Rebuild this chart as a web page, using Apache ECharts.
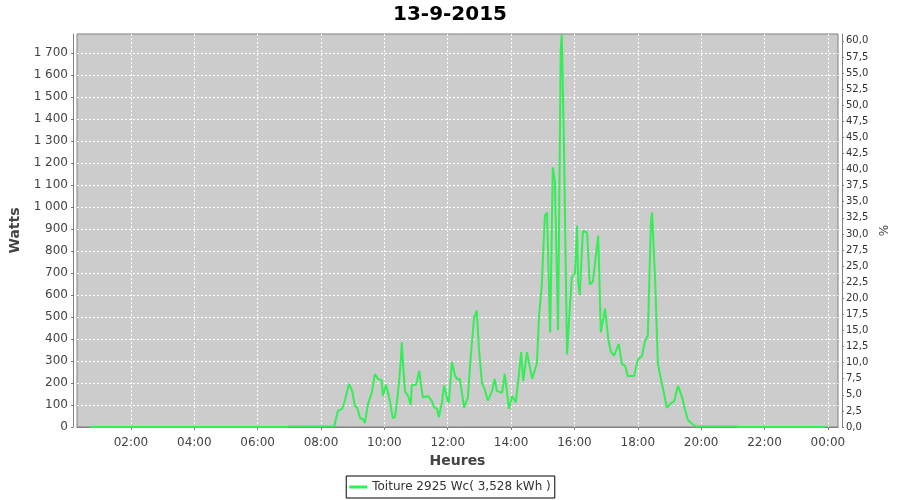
<!DOCTYPE html>
<html>
<head>
<meta charset="utf-8">
<script src="https://cdn.jsdelivr.net/npm/echarts@6/dist/echarts.min.js"></script>
<style>
html,body{margin:0;padding:0;background:#fff;}
#c{width:900px;height:500px;}
</style>
</head>
<body>
<div id="c"></div>
<script>
const chartTitle = "13-9-2015";
const seriesName = "Toiture 2925 Wc( 3,528 kWh )";
const peakPower = 2925;
const times = ["00:42","06:55","07:00","08:25","08:28","08:32","08:40","08:45","08:53","08:59","09:04","09:08","09:14","09:19","09:23","09:29","09:36","09:42","09:48","09:55","09:57","10:03","10:09","10:16","10:20","10:24","10:28","10:31","10:33","10:35","10:39","10:45","10:50","10:52","11:00","11:06","11:09","11:13","11:23","11:30","11:34","11:40","11:43","11:49","11:53","11:59","12:02","12:08","12:14","12:19","12:23","12:31","12:38","12:44","12:50","12:55","12:59","13:05","13:09","13:16","13:24","13:29","13:33","13:43","13:48","13:56","14:02","14:09","14:15","14:19","14:23","14:30","14:40","14:49","14:53","14:58","15:04","15:08","15:14","15:19","15:23","15:29","15:34","15:36","15:40","15:46","15:50","15:55","16:01","16:05","16:07","16:10","16:16","16:24","16:29","16:35","16:45","16:50","16:58","17:04","17:09","17:15","17:24","17:30","17:36","17:41","17:53","18:00","18:08","18:14","18:19","18:25","18:27","18:33","18:38","18:44","18:50","18:55","19:03","19:09","19:16","19:24","19:29","19:35","19:42","19:50","21:05","21:10","23:56"];
const watts = [0,0,2,3,4,73,82,118,196,164,96,90,41,36,18,105,155,240,219,212,141,192,135,41,45,118,210,300,385,300,162,141,100,190,192,255,196,135,140,118,90,82,44,109,189,128,109,296,232,215,219,88,132,333,497,529,360,196,178,120,164,219,164,155,242,82,141,112,242,340,210,340,220,290,506,640,960,975,430,1180,1117,440,1714,1784,1300,330,492,680,700,915,661,600,891,884,647,661,870,430,538,401,342,324,378,287,278,232,232,305,324,392,415,939,975,661,290,215,150,87,109,118,187,135,82,32,16,2,2,0,0];
const xTickHours = [2,4,6,8,10,12,14,16,18,20,22,24];

function toHours(s){const p=s.split(':');return (+p[0])+(+p[1])/60;}
const data = times.map((t,i)=>[toHours(t), watts[i]]);
const leftMax = 1786;
const rightMax = leftMax/peakPower*100;
const FONT = 'DejaVu Sans';

const chart = echarts.init(document.getElementById('c'), null, {renderer:'canvas'});
chart.setOption({
  animation:false,
  backgroundColor:'#ffffff',
  title:{text:chartTitle,left:'center',top:0,textStyle:{fontFamily:FONT,fontSize:20,fontWeight:'bold',color:'#000'}},
  grid:{left:77,right:62,top:34,bottom:73,show:true,backgroundColor:'#cccccc',borderColor:'#808080',borderWidth:1,containLabel:false},
  legend:{bottom:2,left:'center',data:[{name:seriesName,icon:'rect'}],borderColor:'#000',borderWidth:1,padding:[5,4,5,3],itemWidth:18,itemHeight:3,itemGap:2,borderRadius:0,
    textStyle:{fontFamily:FONT,fontSize:12,color:'#333'}},
  xAxis:{type:'value',min:0.297,max:24.32,splitNumber:12,minInterval:2,maxInterval:2,offset:4,
    name:'Heures',nameLocation:'middle',nameGap:22,nameTextStyle:{fontFamily:FONT,fontSize:14,fontWeight:'bold',color:'#444'},
    axisLine:{show:true,lineStyle:{color:'#808080'}},
    axisTick:{show:true,length:3,lineStyle:{color:'#808080'}},
    axisLabel:{showMinLabel:false,showMaxLabel:false,fontFamily:FONT,fontSize:12,color:'#444',margin:6,
      formatter:function(v){if(xTickHours.indexOf(Math.round(v*1000)/1000)<0)return '';const h=Math.round(v)%24;return (h<10?'0':'')+h+':00';}},
    splitLine:{show:true,showMinLine:false,showMaxLine:false,lineStyle:{color:'#ffffff',type:[2,2],width:1}}},
  yAxis:[
    {type:'value',min:0,max:leftMax,interval:100,offset:4,position:'left',
      name:'Watts',nameLocation:'middle',nameGap:42,nameTextStyle:{fontFamily:FONT,fontSize:14,fontWeight:'bold',color:'#444'},
      axisLine:{show:true,lineStyle:{color:'#808080'}},
      axisTick:{show:true,length:2,lineStyle:{color:'#808080'}},
      axisLabel:{showMaxLabel:false,fontFamily:FONT,fontSize:12,color:'#444',margin:5,
        formatter:function(v){return String(v).replace(/\B(?=(\d{3})+(?!\d))/g,' ');}},
      splitLine:{show:true,showMinLine:false,showMaxLine:false,lineStyle:{color:'#ffffff',type:[2,2],width:1}}},
    {type:'value',min:0,max:rightMax,interval:2.5,offset:4,position:'right',
      name:'%',nameLocation:'middle',nameGap:36,nameTextStyle:{fontFamily:FONT,fontSize:12,color:'#444'},
      axisLine:{show:true,lineStyle:{color:'#808080'}},
      axisTick:{show:true,length:2,lineStyle:{color:'#808080'}},
      axisLabel:{showMaxLabel:false,fontFamily:FONT,fontSize:10,color:'#333',margin:4,
        formatter:function(v){return v.toFixed(1).replace('.',',');}},
      splitLine:{show:false}}
  ],
  series:[{name:seriesName,type:'line',yAxisIndex:0,data:data,symbol:'none',showSymbol:false,
    lineStyle:{color:'#33ee55',width:2},itemStyle:{color:'#33ee55'}}]
});
</script>
</body>
</html>
